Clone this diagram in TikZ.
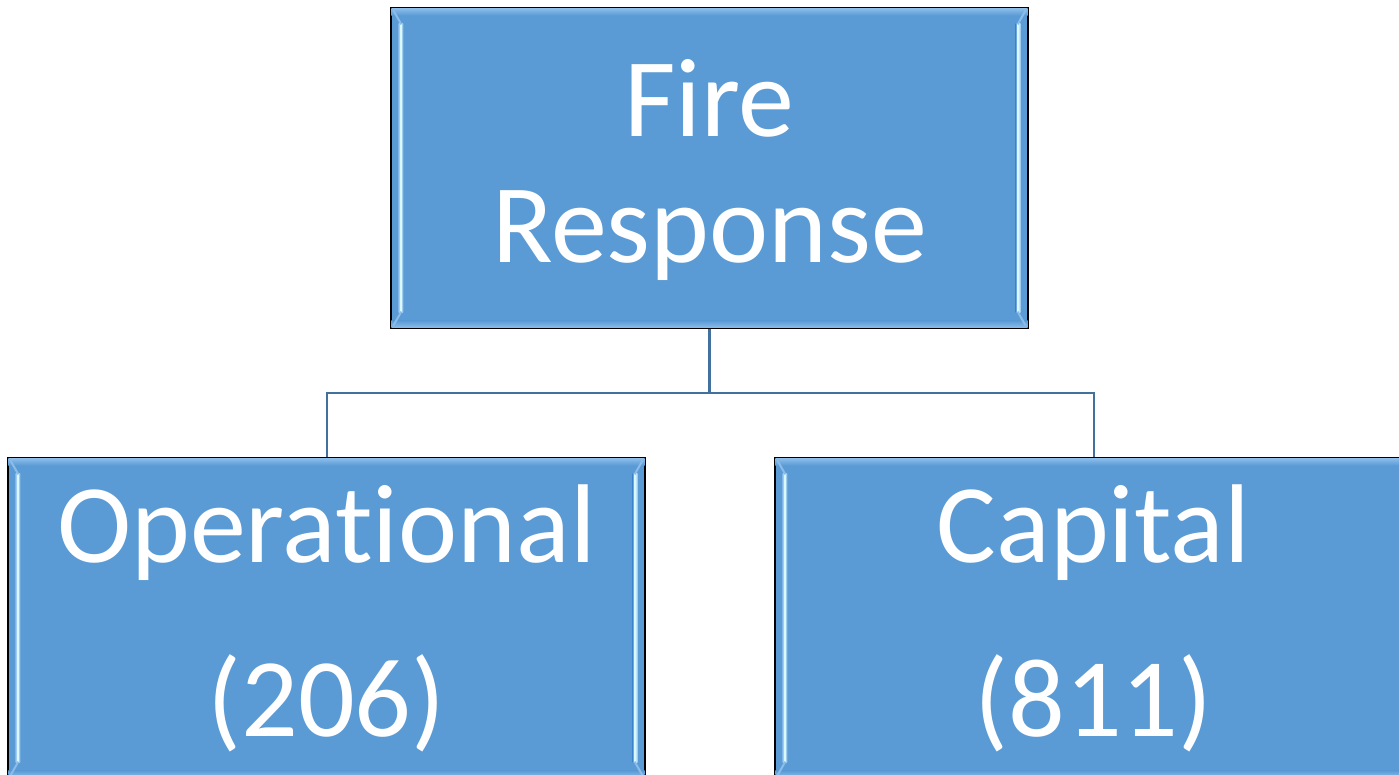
\documentclass[tikz,border=0pt]{standalone}
\usepackage{fontspec}
\setmainfont[Ligatures=NoCommon]{Carlito}
\usetikzlibrary{calc}

\definecolor{boxfill}{HTML}{5B9BD5}
\definecolor{boxglow}{HTML}{DAF8FF}
\definecolor{boxrim}{HTML}{8CBDEA}
\definecolor{linkcol}{HTML}{41719C}

\tikzset{
  orgbox/.style={rectangle, fill=boxfill, draw=black, line width=1.3pt,
    minimum width=637pt, minimum height=320pt, inner sep=0pt},
  boxtext/.style={text=white, anchor=base, inner sep=0pt,
    font=\fontsize{112}{126}\selectfont},
  link/.style={draw=linkcol, line width=2.6pt},
}

\begin{document}
\begin{tikzpicture}[x=1pt, y=1pt]
  \useasboundingbox (0,0) rectangle (1399,774);
  \clip (0,0) rectangle (1399,774);

  % hierarchy boxes
  \node[orgbox] (fire) at (709.5,606) {};
  \node[orgbox] (oper) at (326.5,156) {};
  \node[orgbox] (capi) at (1093.5,156) {};

  % bevel highlights on each box
  \foreach \n in {fire,oper,capi}{
    % top and bottom rims
    \shade[top color=boxrim, bottom color=boxfill]
      ($(\n.north west)+(1,-1)$) rectangle ($(\n.north east)+(-1,-8)$);
    \shade[bottom color=boxrim, top color=boxfill]
      ($(\n.south west)+(1,1)$) rectangle ($(\n.south east)+(-1,8)$);
    % glossy vertical strips
    \shade[left color=boxrim, right color=boxfill, middle color=boxglow]
      ($(\n.north west)+(8,-16)$) rectangle ($(\n.south west)+(13,16)$);
    \fill[boxglow] ($(\n.north west)+(10,-17)$) rectangle ($(\n.south west)+(12,17)$);
    \shade[left color=boxfill, right color=boxrim, middle color=boxglow]
      ($(\n.north east)+(-13,-16)$) rectangle ($(\n.south east)+(-8,16)$);
    \fill[boxglow] ($(\n.north east)+(-12,-17)$) rectangle ($(\n.south east)+(-10,17)$);
    % bevel corners
    \draw[boxrim, line width=2pt]
      ($(\n.north west)+(3,-3)$) -- ($(\n.north west)+(11,-17)$)
      ($(\n.north east)+(-3,-3)$) -- ($(\n.north east)+(-11,-17)$)
      ($(\n.south west)+(3,3)$) -- ($(\n.south west)+(11,17)$)
      ($(\n.south east)+(-3,3)$) -- ($(\n.south east)+(-11,17)$);
    \draw[black, line width=1.3pt] (\n.south west) rectangle (\n.north east);
  }

  % labels
  \node[boxtext] (fireA) at ($(fire.north)+(0,-129)$) {Fire};
  \node[boxtext] (fireB) at ($(fire.north)+(0,-255)$) {Response};
  \node[boxtext] (operA) at ($(oper.north)+(0,-105)$) {Operational};
  \node[boxtext] (operB) at ($(oper.north)+(0,-279)$) {(206)};
  \node[boxtext] (capiA) at ($(capi.north)+(0,-105)$) {Capital};
  \node[boxtext] (capiB) at ($(capi.north)+(0,-279)$) {(811)};

  % connectors
  \coordinate (hub) at ($(fire.south)+(0,-64)$);
  \draw[link] (fire.south) -- (hub);
  \draw[link, line width=2pt] (hub) -| (oper.north);
  \draw[link, line width=2pt] (hub) -| (capi.north);
\end{tikzpicture}
\end{document}
